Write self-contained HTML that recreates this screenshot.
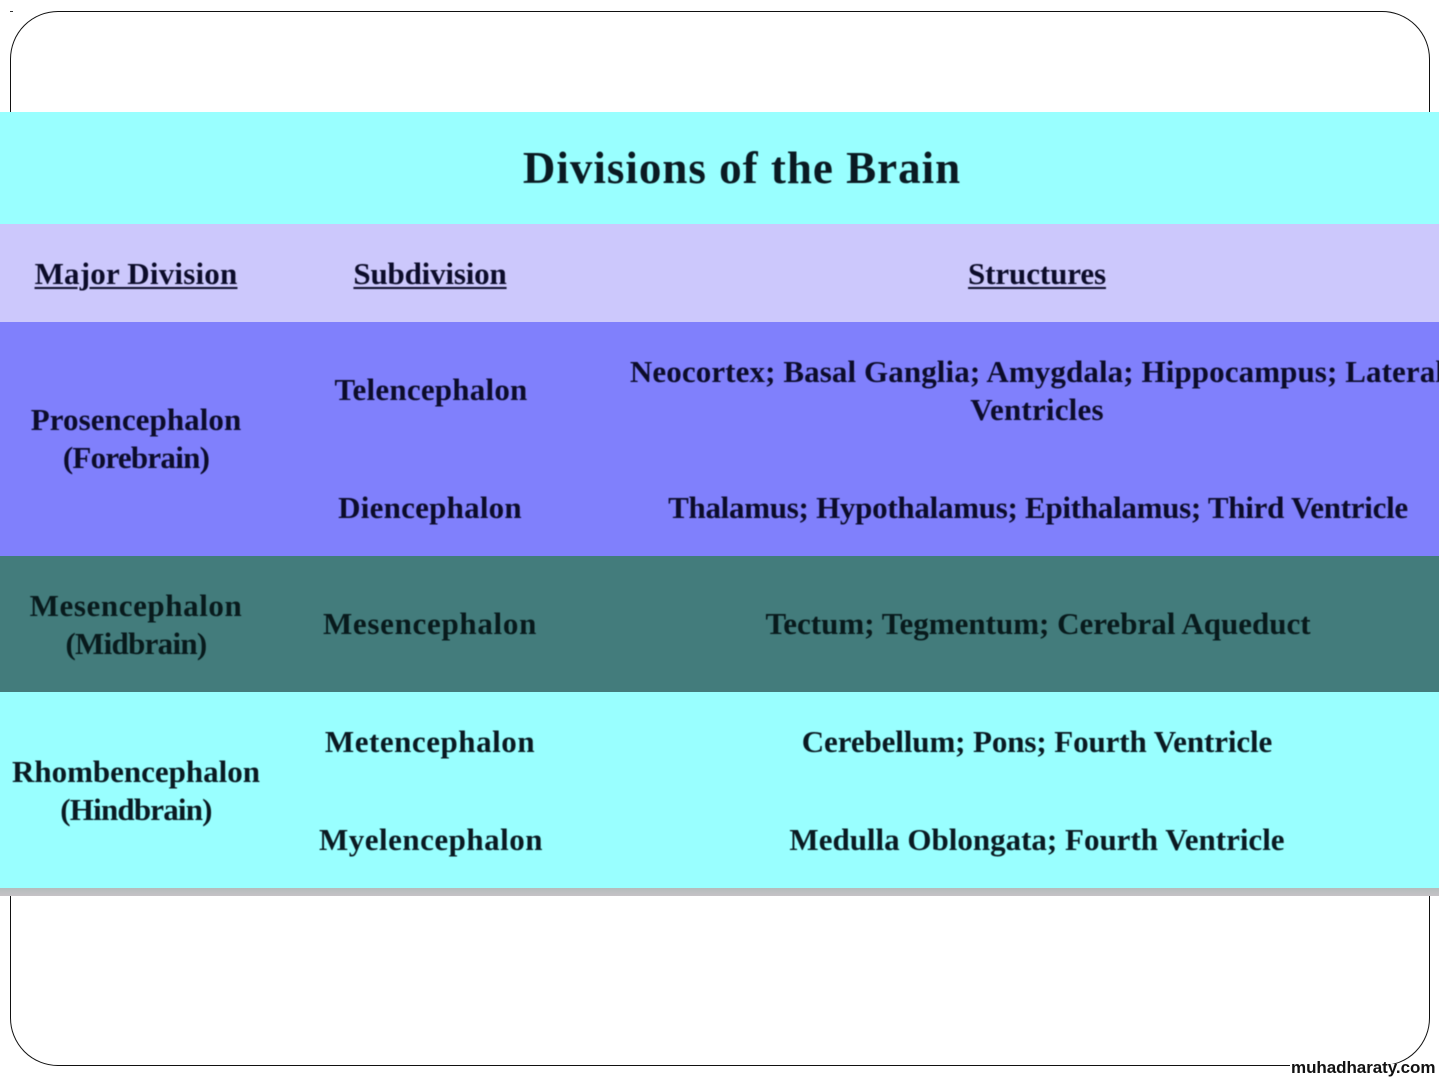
<!DOCTYPE html>
<html>
<head>
<meta charset="utf-8">
<style>
html,body{margin:0;padding:0;background:#fff;}
body{width:1440px;height:1080px;position:relative;overflow:hidden;font-family:"Liberation Serif",serif;}
.frame{position:absolute;left:10px;top:11px;width:1420px;height:1055px;border:1px solid #111;border-radius:48px;box-sizing:border-box;}
.dot{position:absolute;left:10px;top:11px;width:3px;height:1px;background:#333;}
.wrap{position:absolute;left:0;top:0;width:1439px;height:1080px;overflow:hidden;}
.band{position:absolute;left:0;width:1439px;}
.t{position:absolute;font-weight:bold;font-size:31px;line-height:38px;color:#0c0c2a;text-align:center;white-space:nowrap;transform:translateX(-50%);filter:blur(.4px);}
.u{text-decoration:underline;text-underline-offset:3px;text-decoration-thickness:2px;}
.title{position:absolute;left:742px;top:141px;transform:translateX(-50%);font-weight:bold;font-size:45px;line-height:54px;color:#0a1a22;white-space:nowrap;letter-spacing:1px;filter:blur(.4px);}
.wmbg{position:absolute;left:1290px;top:1064px;width:146px;height:16px;background:#fff;}
.wm{position:absolute;left:1291px;top:1058px;font-family:"Liberation Sans",sans-serif;font-weight:bold;font-size:17px;line-height:20px;color:#111;white-space:nowrap;letter-spacing:-.05px;}
.d{color:#081a1c}.c{color:#0a1a22}
</style>
</head>
<body>
<div class="frame"></div>
<div class="dot"></div>
<div class="wrap">
<div class="band" style="top:112px;height:112px;background:#99ffff"></div>
<div class="band" style="top:224px;height:98px;background:#ccc8fc"></div>
<div class="band" style="top:322px;height:234px;background:#8080fc"></div>
<div class="band" style="top:556px;height:136px;background:#437c7c"></div>
<div class="band" style="top:692px;height:196px;background:#99ffff"></div>
<div class="band" style="top:888px;height:8px;background:linear-gradient(#b4bcbc,#c6c2c6)"></div>
<div class="title">Divisions of the Brain</div>

<div class="t u" style="left:136px;top:255px;letter-spacing:.2px">Major Division</div>
<div class="t u" style="left:430px;top:255px;letter-spacing:-.18px">Subdivision</div>
<div class="t u" style="left:1037px;top:255px;letter-spacing:-.1px">Structures</div>

<div class="t" style="left:136px;top:401px;letter-spacing:.07px">Prosencephalon</div>
<div class="t" style="left:136px;top:439px;letter-spacing:-.73px">(Forebrain)</div>
<div class="t" style="left:431px;top:371px;letter-spacing:.23px">Telencephalon</div>
<div class="t" style="left:1037px;top:353px;letter-spacing:.1px">Neocortex; Basal Ganglia; Amygdala; Hippocampus; Lateral</div>
<div class="t" style="left:1037px;top:391px;letter-spacing:.2px">Ventricles</div>
<div class="t" style="left:430px;top:489px;letter-spacing:.25px">Diencephalon</div>
<div class="t" style="left:1038px;top:489px;letter-spacing:-.27px">Thalamus; Hypothalamus; Epithalamus; Third Ventricle</div>

<div class="t d" style="left:136px;top:587px;letter-spacing:.6px">Mesencephalon</div>
<div class="t d" style="left:136px;top:625px;letter-spacing:-.7px">(Midbrain)</div>
<div class="t d" style="left:430px;top:605px;letter-spacing:.7px">Mesencephalon</div>
<div class="t d" style="left:1038px;top:605px">Tectum; Tegmentum; Cerebral Aqueduct</div>

<div class="t c" style="left:136px;top:753px">Rhombencephalon</div>
<div class="t c" style="left:136px;top:791px;letter-spacing:-.8px">(Hindbrain)</div>
<div class="t c" style="left:430px;top:723px;letter-spacing:.54px">Metencephalon</div>
<div class="t c" style="left:1037px;top:723px;letter-spacing:-.1px">Cerebellum; Pons; Fourth Ventricle</div>
<div class="t c" style="left:431px;top:821px;letter-spacing:.5px">Myelencephalon</div>
<div class="t c" style="left:1037px;top:821px">Medulla Oblongata; Fourth Ventricle</div>
</div>
<div class="wmbg"></div>
<div class="wm">muhadharaty.com</div>
</body>
</html>
